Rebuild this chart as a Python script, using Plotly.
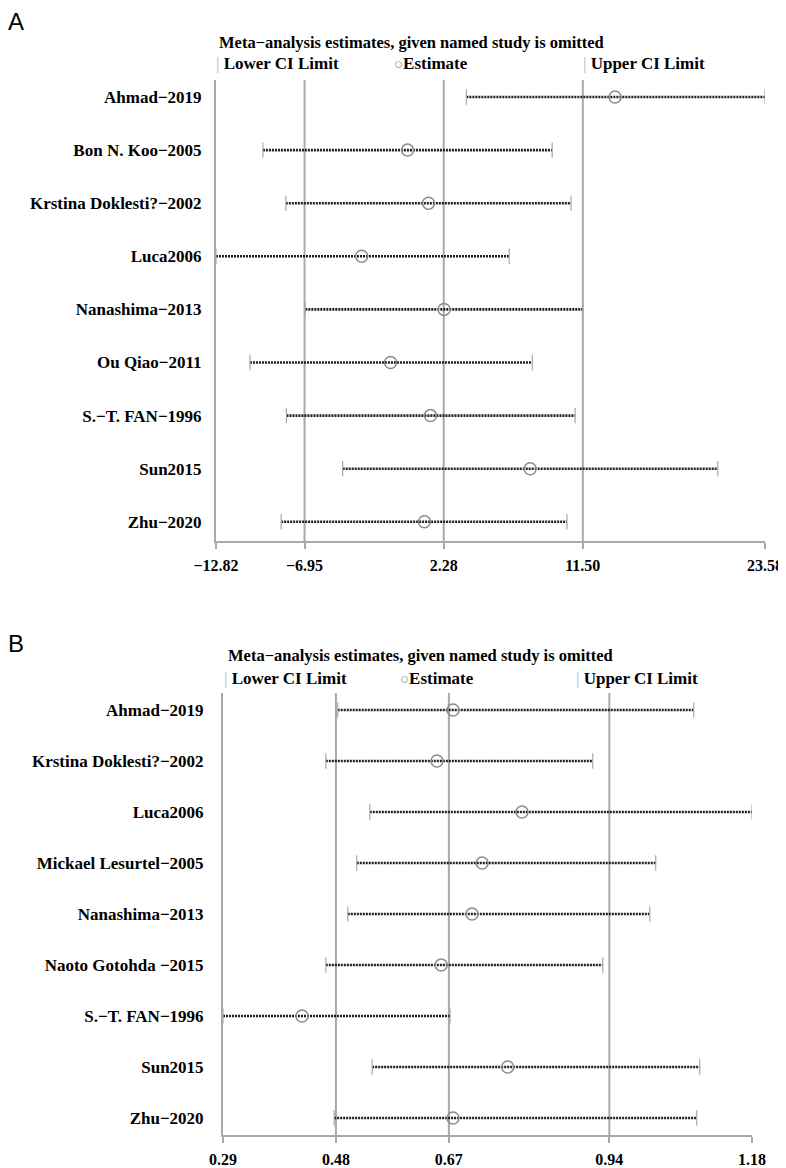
import plotly.graph_objects as go

# ---------------- Panel A data ----------------
studies_a = ["Ahmad\u22122019", "Bon N. Koo\u22122005", "Krstina Doklesti?\u22122002", "Luca2006",
             "Nanashima\u22122013", "Ou Qiao\u22122011", "S.\u2212T. FAN\u22121996", "Sun2015",
             "Zhu\u22122020"]
est_a = [13.64, -0.12, 1.27, -3.16, 2.30, -1.25, 1.40, 8.01, 1.00]
lower_a = [3.78, -9.71, -8.19, -12.82, -6.90, -10.57, -8.15, -4.42, -8.50]
upper_a = [23.58, 9.47, 10.72, 6.62, 11.50, 8.15, 10.99, 20.45, 10.45]
ticks_a = [-12.82, -6.95, 2.28, 11.50, 23.58]
ticktext_a = ["\u221212.82", "\u22126.95", "2.28", "11.50", "23.58"]
ref_a = [-6.95, 2.28, 11.50]

# ---------------- Panel B data ----------------
studies_b = ["Ahmad\u22122019", "Krstina Doklesti?\u22122002", "Luca2006",
             "Mickael Lesurtel\u22122005", "Nanashima\u22122013", "Naoto Gotohda \u22122015",
             "S.\u2212T. FAN\u22121996", "Sun2015", "Zhu\u22122020"]
est_b = [0.677, 0.650, 0.793, 0.726, 0.709, 0.657, 0.423, 0.769, 0.677]
lower_b = [0.483, 0.463, 0.537, 0.515, 0.500, 0.463, 0.290, 0.541, 0.477]
upper_b = [1.082, 0.912, 1.180, 1.018, 1.008, 0.929, 0.672, 1.092, 1.087]
ticks_b = [0.29, 0.48, 0.67, 0.94, 1.18]
ticktext_b = ["0.29", "0.48", "0.67", "0.94", "1.18"]
ref_b = [0.48, 0.67, 0.94]

# page offset (default body margin) compensated so target pixel coords line up
OFF = 8
W, H = 786 - OFF, 1168 - OFF
SERIF = "Liberation Serif"
GRAY = "#a9a9a9"
DOT = "#1e1e1e"

fig = go.Figure()


def px_x(p):
    return (p - OFF) / W


def px_y(p):
    return 1 - (p - OFF) / H


def add_panel(studies, est, lower, upper, xa, ya):
    n = len(studies)
    lx, ly = [], []
    for i in range(n):
        lx += [lower[i], upper[i], None]
        ly += [i, i, None]
    fig.add_trace(go.Scatter(x=lx, y=ly, mode="lines", xaxis=xa, yaxis=ya,
                             line=dict(color=DOT, width=2.6, dash="2px,1px"),
                             hoverinfo="skip", showlegend=False))
    fig.add_trace(go.Scatter(x=lower + upper, y=list(range(n)) * 2, mode="markers",
                             xaxis=xa, yaxis=ya,
                             marker=dict(symbol="line-ns", size=11, color=GRAY,
                                         line=dict(color=GRAY, width=1.2)),
                             showlegend=False))
    fig.add_trace(go.Scatter(x=est, y=list(range(n)), mode="markers", xaxis=xa, yaxis=ya,
                             marker=dict(symbol="circle-open", size=12, color="#8c8c8c",
                                         line=dict(color="#8c8c8c", width=1.5)),
                             showlegend=False))


add_panel(studies_a, est_a, lower_a, upper_a, "x", "y")
add_panel(studies_b, est_b, lower_b, upper_b, "x2", "y2")

# geometry (target pixels)
A_left, A_right, A_top, A_bot = 216, 765, 80, 541
A_row0, A_step = 97, 53.1
B_left, B_right, B_top, B_bot = 223, 752, 693, 1135
B_row0, B_step = 710, 51.0


def yrange(top, bot, row0, step):
    return [(bot - row0) / step, (top - row0) / step]


axis_common = dict(showgrid=False, zeroline=False, showline=True, linecolor=GRAY,
                   linewidth=2, automargin=False)
tickfont = dict(family=SERIF, size=16, color="black", weight="bold")
rowfont = dict(family=SERIF, size=17, color="black", weight="bold")

fig.update_layout(
    width=W, height=H, margin=dict(l=0, r=0, t=0, b=0, autoexpand=False),
    paper_bgcolor="white", plot_bgcolor="white", showlegend=False,
    xaxis=dict(domain=[px_x(A_left), px_x(A_right)], range=[ticks_a[0], ticks_a[-1]],
               tickvals=ticks_a, ticktext=ticktext_a, ticks="outside", ticklen=6,
               tickwidth=2, tickcolor=GRAY, tickfont=tickfont, anchor="y",
               ticklabelstandoff=3, **axis_common),
    yaxis=dict(domain=[px_y(A_bot), px_y(A_top)], range=yrange(A_top, A_bot, A_row0, A_step),
               tickvals=list(range(len(studies_a))), ticktext=studies_a, ticks="",
               ticklabelstandoff=9, tickfont=rowfont, anchor="x", **axis_common),
    xaxis2=dict(domain=[px_x(B_left), px_x(B_right)], range=[ticks_b[0], ticks_b[-1]],
                tickvals=ticks_b, ticktext=ticktext_b, ticks="outside", ticklen=6,
                tickwidth=2, tickcolor=GRAY, tickfont=tickfont, anchor="y2",
                ticklabelstandoff=3, **axis_common),
    yaxis2=dict(domain=[px_y(B_bot), px_y(B_top)], range=yrange(B_top, B_bot, B_row0, B_step),
                tickvals=list(range(len(studies_b))), ticktext=studies_b, ticks="",
                ticklabelstandoff=14, tickfont=rowfont, anchor="x2", **axis_common),
)

for v in ref_a:
    fig.add_shape(type="line", xref="x", yref="y domain", x0=v, x1=v, y0=0, y1=1,
                  line=dict(color=GRAY, width=2), layer="below")
for v in ref_b:
    fig.add_shape(type="line", xref="x2", yref="y2 domain", x0=v, x1=v, y0=0, y1=1,
                  line=dict(color=GRAY, width=2), layer="below")

title_font = dict(family=SERIF, size=16.5, color="black", weight="bold")
lab_font = dict(family=SERIF, size=17, color="black", weight="bold")


def legend(y_title, y_entries, x_title, x_low, x_est, x_up):
    fig.add_annotation(x=px_x(x_title), y=px_y(y_title), xref="paper", yref="paper",
                       text="Meta\u2212analysis estimates, given named study is omitted",
                       showarrow=False, xanchor="left", yanchor="middle", font=title_font)
    fig.add_annotation(x=px_x(x_low), y=px_y(y_entries), xref="paper", yref="paper",
                       text="<span style='color:#b5b5b5;font-weight:normal'>|</span> Lower CI Limit",
                       showarrow=False, xanchor="left", yanchor="middle", font=lab_font)
    fig.add_annotation(x=px_x(x_est), y=px_y(y_entries), xref="paper", yref="paper",
                       text="<span style='color:#999999;font-weight:normal;font-size:15px'>\u25cb</span>Estimate",
                       showarrow=False, xanchor="left", yanchor="middle", font=lab_font)
    fig.add_annotation(x=px_x(x_up), y=px_y(y_entries), xref="paper", yref="paper",
                       text="<span style='color:#b5b5b5;font-weight:normal'>|</span> Upper CI Limit",
                       showarrow=False, xanchor="left", yanchor="middle", font=lab_font)


legend(42, 64, 217, 214, 392, 581)
legend(655, 678, 226, 222, 398, 574)

for txt, yy in [("A", 22), ("B", 643)]:
    fig.add_annotation(x=px_x(6), y=px_y(yy), xref="paper", yref="paper", text=txt,
                       showarrow=False, xanchor="left", yanchor="middle",
                       font=dict(family="Liberation Sans", size=24, color="black"))

fig.write_html("out.html")
